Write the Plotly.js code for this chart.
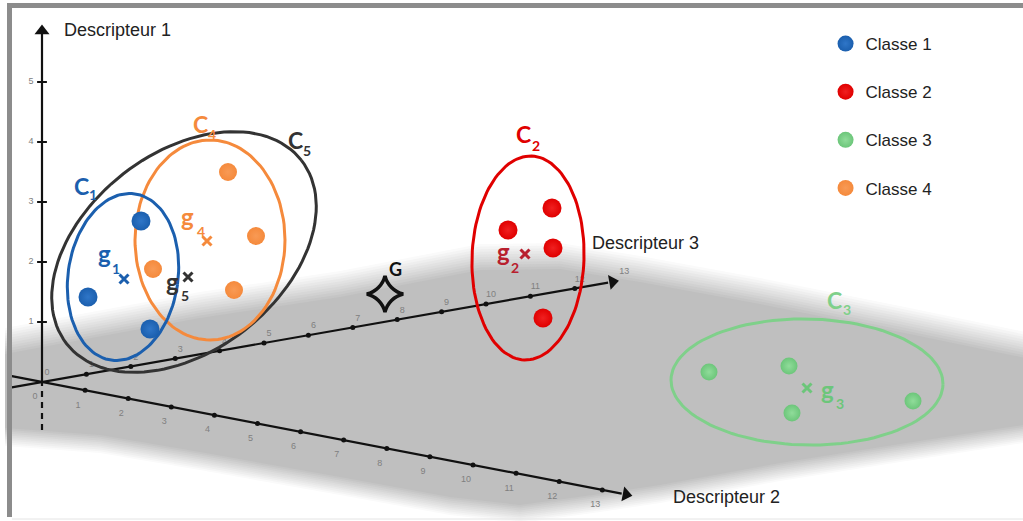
<!DOCTYPE html>
<html><head><meta charset="utf-8">
<script src="https://cdn.plot.ly/plotly-3.0.1.min.js"></script>
<style>html,body{margin:0;padding:0;background:#fff;}#chart{width:1023px;height:521px;}</style>
</head><body><div id="chart"></div>
<script>
// ---------- data (positions, in picture units) ----------
const classNames = ['Classe 1', 'Classe 2', 'Classe 3', 'Classe 4'];
const class1X = [141, 88, 150];
const class1Y = [221, 297, 329];
const class2X = [552, 508, 553, 543];
const class2Y = [208, 230, 248, 318];
const class3X = [709, 789, 792, 913];
const class3Y = [372, 366, 413, 401];
const class4X = [228, 256, 153, 234];
const class4Y = [172, 236, 269, 290];
const centroidNames = ['g1', 'g2', 'g3', 'g4', 'g5'];
const centroidX = [124, 525, 807, 207, 188];
const centroidY = [279, 254, 388, 241, 277];
const globalX = [385];
const globalY = [294];
const d1Ticks = [1, 2, 3, 4, 5];
const d2Ticks = [0, 1, 2, 3, 4, 5, 6, 7, 8, 9, 10, 11, 12, 13];
const d3Ticks = [0, 1, 2, 3, 4, 5, 6, 7, 8, 9, 10, 11, 12];
const axisNames = ['Descripteur 1', 'Descripteur 2', 'Descripteur 3'];

// ---------- projection of the descriptor axes ----------
const O = [42, 382];
const s1 = [0, -60], s2 = [43.1, 8.3], s3 = [44.4, -7.8];
const along = (s, t) => [O[0] + s[0] * t, O[1] + s[1] * t];

const colors = {c1: '#1b5fae', c2: '#e00000', c3: '#7fd08a', c4: '#f58a3c', c5: '#333333', g2: '#b8202e', g3: '#6cc67a'};

function ellipse(cx, cy, a, b, rot) {
  const th = rot * Math.PI / 180, xs = [], ys = [];
  for (let i = 0; i <= 120; i++) {
    const t = 2 * Math.PI * i / 120, ex = a * Math.cos(t), ey = b * Math.sin(t);
    xs.push(cx + ex * Math.cos(th) - ey * Math.sin(th));
    ys.push(cy - (ex * Math.sin(th) + ey * Math.cos(th)));
  }
  return {x: xs, y: ys};
}

const traces = [];
// ---------- gray plane with soft edges ----------
const topEdge = [[5,354],[200,318],[340,297],[420,282],[480,270],[560,269],[640,282],[760,304],[900,332],[1030,359]];
const botEdge = [[5,428],[100,435],[200,452],[340,477],[450,497],[520,505],[600,494],[660,485],[780,463],[900,444],[1030,424]];
const nLayers = 10;
for (let k = nLayers; k >= 0; k--) {
  const f = k / nLayers;
  const g = Math.round(191 + (250 - 191) * f);
  const col = 'rgb(' + g + ',' + g + ',' + g + ')';
  const xs = [], ys = [];
  topEdge.forEach(p => { xs.push(p[0]); ys.push(p[1] - k * 2.6); });
  botEdge.slice().reverse().forEach(p => { xs.push(p[0]); ys.push(p[1] + k * 1.8); });
  traces.push({x: xs, y: ys, mode: 'lines', fill: 'toself', fillcolor: col, line: {width: 0}, hoverinfo: 'skip', showlegend: false});
}

// ---------- axes ----------
function axisLine(s, t0, t1, dash) {
  const a = along(s, t0), b = along(s, t1);
  traces.push({x: [a[0], b[0]], y: [a[1], b[1]], mode: 'lines', line: {color: '#111', width: 2.2, dash: dash || 'solid'}, hoverinfo: 'skip', showlegend: false});
}
axisLine(s3, -0.68, 12.75);
axisLine(s2, -0.7, 13.45);
axisLine(s1, 0, 5.8);
axisLine(s1, -0.8, 0, '6px,5px');
function arrowHead(s, t, ang) {
  const p = along(s, t);
  traces.push({x: [p[0]], y: [p[1]], mode: 'markers', marker: {symbol: 'triangle-up', size: 13, color: '#111', angle: ang}, hoverinfo: 'skip', showlegend: false});
}
arrowHead(s3, 12.85, 90 - Math.atan2(-s3[1], s3[0]) * 180 / Math.PI);
arrowHead(s2, 13.55, 90 - Math.atan2(-s2[1], s2[0]) * 180 / Math.PI);
arrowHead(s1, 5.85, 0);

// tick marks
traces.push({x: d1Ticks.map(t => along(s1, t)[0]), y: d1Ticks.map(t => along(s1, t)[1]), mode: 'markers',
  marker: {symbol: 'line-ew-open', size: 7, color: '#111', line: {width: 2, color: '#111'}}, hoverinfo: 'skip', showlegend: false});
traces.push({x: d2Ticks.slice(1).map(t => along(s2, t)[0]), y: d2Ticks.slice(1).map(t => along(s2, t)[1]), mode: 'markers',
  marker: {size: 5, color: '#111'}, hoverinfo: 'skip', showlegend: false});
traces.push({x: d3Ticks.slice(1).map(t => along(s3, t)[0]), y: d3Ticks.slice(1).map(t => along(s3, t)[1]), mode: 'markers',
  marker: {size: 5, color: '#111'}, hoverinfo: 'skip', showlegend: false});
// tick labels
const tickFont = {family: 'Liberation Sans', size: 9, color: '#808080'};
const d3Lab = d3Ticks.concat([13]);
traces.push({x: d1Ticks.map(t => along(s1, t)[0] - 11), y: d1Ticks.map(t => along(s1, t)[1]), mode: 'text', text: d1Ticks.map(String), textfont: tickFont, hoverinfo: 'skip', showlegend: false});
traces.push({x: d2Ticks.map(t => along(s2, t)[0] - 7), y: d2Ticks.map(t => along(s2, t)[1] + 15), mode: 'text', text: d2Ticks.map(String), textfont: tickFont, hoverinfo: 'skip', showlegend: false});
traces.push({x: d3Lab.map(t => along(s3, t)[0] + 5), y: d3Lab.map(t => along(s3, t)[1] - 9), mode: 'text', text: d3Lab.map(String), textfont: tickFont, hoverinfo: 'skip', showlegend: false});

// ---------- class ellipses ----------
const ells = [
  [ellipse(184, 252, 149, 99, 38), colors.c5],
  [ellipse(210, 240, 75, 100, 0), colors.c4],
  [ellipse(123, 277, 55, 84, -8), colors.c1],
  [ellipse(528, 258, 56, 102, -2), colors.c2],
  [ellipse(807, 382, 136, 63, -1), colors.c3]
];
ells.forEach(([e, col]) => traces.push({x: e.x, y: e.y, mode: 'lines', line: {color: col, width: 3}, hoverinfo: 'skip', showlegend: false}));

// ---------- class points ----------
function classTrace(name, xs, ys, col, light, size) {
  return {x: xs, y: ys, name: name, legendgroup: name, mode: 'markers', type: 'scatter',
    marker: {size: size, color: col, gradient: {type: 'radial', color: light}}};
}
traces.push(classTrace(classNames[0], class1X, class1Y, colors.c1, '#2f76c8', 19));
traces.push(classTrace(classNames[1], class2X, class2Y, colors.c2, '#f02020', 19));
traces.push(classTrace(classNames[2], class3X, class3Y, '#6cc67a', '#90dc9a', 17));
traces.push(classTrace(classNames[3], class4X, class4Y, colors.c4, '#f89a55', 18));

// centroids
const centroidColors = [colors.c1, colors.g2, colors.g3, colors.c4, '#333'];
traces.push({x: centroidX, y: centroidY, mode: 'markers', showlegend: false, hoverinfo: 'skip',
  marker: {symbol: 'x-thin', size: 9, color: centroidColors, line: {width: 3, color: centroidColors}}});
traces.push({x: globalX, y: globalY, mode: 'markers', showlegend: false, hoverinfo: 'skip',
  marker: {symbol: 'star-diamond-open', size: 26, color: '#111', line: {width: 3.5, color: '#111'}}});

// ---------- labels (main letter + separate subscript) ----------
function txt(x, y, t, c, s, xa) {
  return {x: x, y: y, xref: 'x', yref: 'y', text: t, showarrow: false, xanchor: xa || 'left', yanchor: 'middle', borderpad: 0,
    font: {family: 'Lato', size: s, color: c, weight: 'bold'}};
}
// [letter, subscript, letter left x, letter y, subscript centre x, subscript centre y, colour]
const labelSpecs = [
  ['C', '1', 73, 186, 93, 194, colors.c1],
  ['C', '4', 192, 124, 212, 134, colors.c4],
  ['C', '5', 287, 140, 307, 150, '#333'],
  ['C', '2', 515, 134, 536, 145, colors.c2],
  ['C', '3', 826, 300, 847, 309, colors.c3],
  ['g', '1', 97, 253, 116, 268, colors.c1],
  ['g', '4', 180, 216, 201, 231, colors.c4],
  ['g', '5', 165, 281, 185, 295, '#333'],
  ['g', '2', 496, 251, 515, 267, colors.g2],
  ['g', '3', 820, 389, 840, 403, colors.g3]
];
const annotations = [];
labelSpecs.forEach(([l, s, x, y, sx, sy, c]) => {
  annotations.push(txt(x, y, l, c, l === 'C' ? 23 : 24));
  annotations.push(txt(sx, sy, s, c, 14, 'center'));
});
annotations.push(txt(388, 269, 'G', '#111', 18));
const axFont = {family: 'Liberation Sans', size: 18, color: '#222'};
annotations.push({x: 62, y: 30, xref: 'x', yref: 'y', text: axisNames[0], showarrow: false, xanchor: 'left', yanchor: 'middle', font: axFont});
annotations.push({x: 671, y: 497, xref: 'x', yref: 'y', text: axisNames[1], showarrow: false, xanchor: 'left', yanchor: 'middle', font: axFont});
annotations.push({x: 590, y: 243, xref: 'x', yref: 'y', text: axisNames[2], showarrow: false, xanchor: 'left', yanchor: 'middle', font: axFont});

const layout = {
  width: 1023, height: 521, margin: {l: 0, r: 0, t: 0, b: 0},
  paper_bgcolor: '#fff', plot_bgcolor: '#fff',
  xaxis: {range: [0, 1023], visible: false, fixedrange: true},
  yaxis: {range: [521, 0], visible: false, fixedrange: true},
  showlegend: true,
  legend: {x: 0.807, xanchor: 'left', y: 0.95, yanchor: 'top', tracegroupgap: 23, bgcolor: 'rgba(0,0,0,0)',
    font: {family: 'Liberation Sans', size: 17, color: '#222'}},
  annotations: annotations,
  shapes: [
    {type: 'rect', xref: 'x', yref: 'y', x0: 7, x1: 1023, y0: 3, y1: 8, fillcolor: '#8c8c8c', line: {width: 0}},
    {type: 'rect', xref: 'x', yref: 'y', x0: 7, x1: 12, y0: 3, y1: 517, fillcolor: '#8c8c8c', line: {width: 0}},
    {type: 'line', xref: 'x', yref: 'y', x0: 12, x1: 1023, y0: 519, y1: 519, line: {color: '#e4e4e4', width: 1}}
  ]
};
Plotly.newPlot('chart', traces, layout, {staticPlot: true, displayModeBar: false});
</script></body></html>
